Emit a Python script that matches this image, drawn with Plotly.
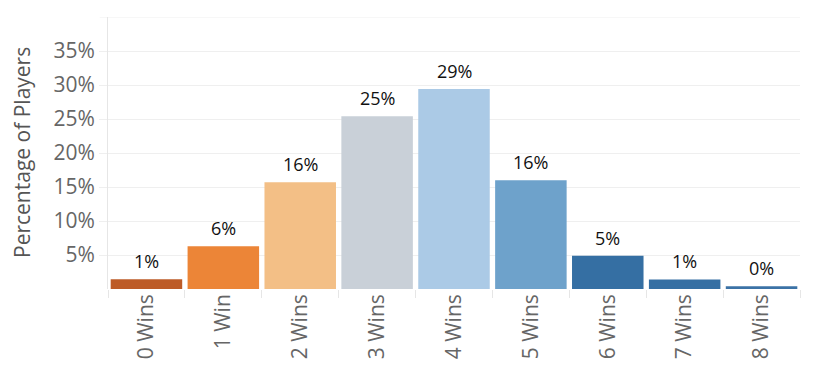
import plotly.graph_objects as go

categories = ["0 Wins", "1 Win", "2 Wins", "3 Wins", "4 Wins", "5 Wins", "6 Wins", "7 Wins", "8 Wins"]
percentages = [1.45, 6.3, 15.7, 25.4, 29.4, 16.0, 4.9, 1.4, 0.4]
bar_colors = ["#bd5b27", "#ec8537", "#f3bf86", "#c9d0d8", "#abcae6", "#6ea2cb", "#356fa3", "#356fa3", "#3b72a6"]
y_tickvals = [5, 10, 15, 20, 25, 30, 35]
y_ticktext = ["5%", "10%", "15%", "20%", "25%", "30%", "35%"]

FONT = "Open Sans, sans-serif"

fig = go.Figure()
fig.add_trace(go.Bar(
    x=categories,
    y=percentages,
    marker=dict(color=bar_colors, line=dict(width=0)),
    hoverinfo="skip",
))

for c, v in zip(categories, percentages):
    fig.add_annotation(
        x=c, y=v, text=f"{round(v)}%", showarrow=False,
        yanchor="bottom", yshift=4,
        font=dict(family=FONT, size=18, color="#111111"),
    )

fig.add_annotation(
    xref="paper", yref="paper", x=0, y=0.5, xshift=-86,
    text="Percentage of Players", textangle=-90, showarrow=False,
    xanchor="center", yanchor="middle",
    font=dict(family=FONT, size=21, color="#555555"),
)

fig.update_layout(
    width=814, height=384,
    margin=dict(l=100, r=22, t=9, b=103),
    paper_bgcolor="white", plot_bgcolor="white",
    bargap=0.07,
    showlegend=False,
    font=dict(family=FONT, color="#666666"),
)
fig.update_xaxes(
    type="category",
    tickangle=-90,
    tickfont=dict(family=FONT, size=21, color="#666666"),
    showgrid=False,
    ticks="outside", tickson="boundaries", ticklen=8, tickcolor="#e6e6e6", tickwidth=1,
    showline=False,
    zeroline=False,
    automargin=False,
)
fig.update_yaxes(
    range=[0, 40],
    tickvals=y_tickvals,
    ticktext=y_ticktext,
    tickfont=dict(family=FONT, size=21, color="#666666"),
    showgrid=True, gridcolor="#efefef", gridwidth=1,
    ticks="outside", ticklen=8, tickcolor="#efefef", tickwidth=1,
    showline=True, linecolor="#e6e6e6", linewidth=1,
    zeroline=False,
    automargin=False,
)
fig.add_shape(type="line", xref="paper", yref="y", x0=-0.012, x1=1, y0=40, y1=40,
              line=dict(color="#efefef", width=1), layer="below")

fig.write_html("out.html")
